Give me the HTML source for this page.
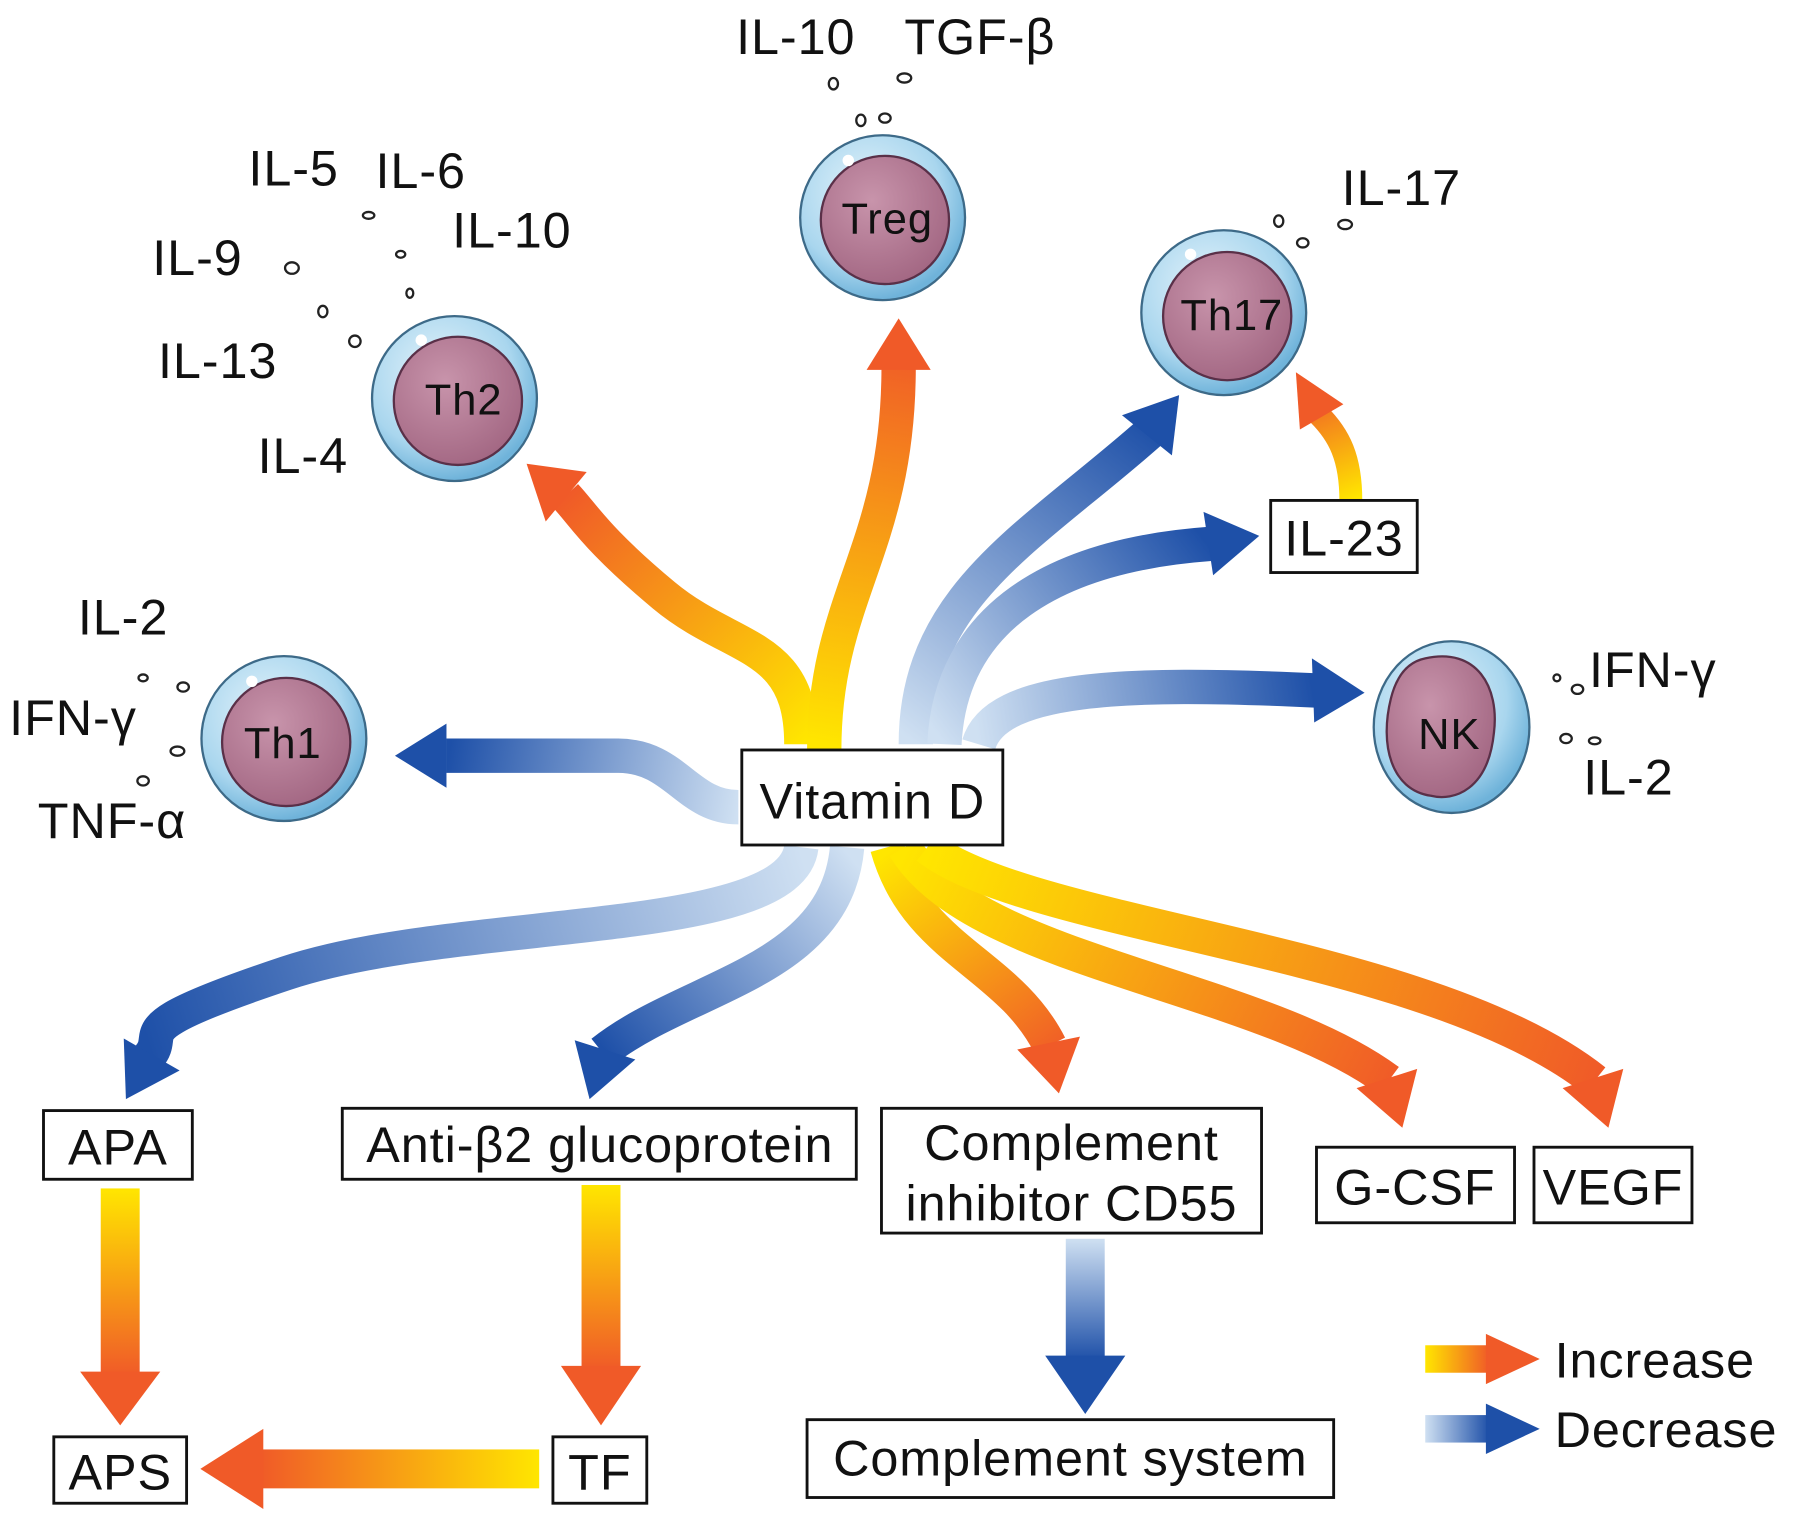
<!DOCTYPE html>
<html><head><meta charset="utf-8"><style>
html,body{margin:0;padding:0;background:#fff}
svg{display:block}
text{font-family:"Liberation Sans",sans-serif;fill:#111;letter-spacing:0.8px}
</style></head><body>
<svg width="1795" height="1524" viewBox="0 0 1568 1331" xmlns="http://www.w3.org/2000/svg">
<defs>
<radialGradient id="cellOut" cx="40%" cy="35%" r="65%"><stop offset="0" stop-color="#e4f3fb"/><stop offset="0.7" stop-color="#a9d6ee"/><stop offset="1" stop-color="#6fb3da"/></radialGradient>
<radialGradient id="cellIn" cx="40%" cy="35%" r="70%"><stop offset="0" stop-color="#c894ab"/><stop offset="1" stop-color="#a26682"/></radialGradient>
<linearGradient id="y1" gradientUnits="userSpaceOnUse" x1="700" y1="650" x2="494" y2="433"><stop offset="0" stop-color="#ffe600"/><stop offset="1" stop-color="#f05a28"/></linearGradient>
<linearGradient id="y2" gradientUnits="userSpaceOnUse" x1="720" y1="650" x2="785" y2="300"><stop offset="0" stop-color="#ffe600"/><stop offset="1" stop-color="#f05a28"/></linearGradient>
<linearGradient id="y3" gradientUnits="userSpaceOnUse" x1="1180" y1="437" x2="1140" y2="340"><stop offset="0" stop-color="#ffe600"/><stop offset="1" stop-color="#f05a28"/></linearGradient>
<linearGradient id="y4" gradientUnits="userSpaceOnUse" x1="775" y1="745" x2="916" y2="930"><stop offset="0" stop-color="#ffe600"/><stop offset="1" stop-color="#f05a28"/></linearGradient>
<linearGradient id="y5" gradientUnits="userSpaceOnUse" x1="790" y1="745" x2="1211" y2="960"><stop offset="0" stop-color="#ffe600"/><stop offset="1" stop-color="#f05a28"/></linearGradient>
<linearGradient id="y6" gradientUnits="userSpaceOnUse" x1="810" y1="745" x2="1391" y2="960"><stop offset="0" stop-color="#ffe600"/><stop offset="1" stop-color="#f05a28"/></linearGradient>
<linearGradient id="yv" x1="0" y1="0" x2="0" y2="1"><stop offset="0" stop-color="#ffe600"/><stop offset="1" stop-color="#f05a28"/></linearGradient>
<linearGradient id="yh" x1="1" y1="0" x2="0" y2="0"><stop offset="0" stop-color="#ffe600"/><stop offset="1" stop-color="#f05a28"/></linearGradient>
<linearGradient id="yl" x1="0" y1="0" x2="1" y2="0"><stop offset="0" stop-color="#ffe600"/><stop offset="1" stop-color="#f05a28"/></linearGradient>
<linearGradient id="b1" gradientUnits="userSpaceOnUse" x1="645" y1="705" x2="392" y2="660"><stop offset="0" stop-color="#cfe0f2"/><stop offset="1" stop-color="#1e50a8"/></linearGradient>
<linearGradient id="b2" gradientUnits="userSpaceOnUse" x1="800" y1="650" x2="1010" y2="375"><stop offset="0" stop-color="#cfe0f2"/><stop offset="1" stop-color="#1e50a8"/></linearGradient>
<linearGradient id="b3" gradientUnits="userSpaceOnUse" x1="825" y1="650" x2="1055" y2="475"><stop offset="0" stop-color="#cfe0f2"/><stop offset="1" stop-color="#1e50a8"/></linearGradient>
<linearGradient id="b4" gradientUnits="userSpaceOnUse" x1="855" y1="650" x2="1147" y2="603"><stop offset="0" stop-color="#cfe0f2"/><stop offset="1" stop-color="#1e50a8"/></linearGradient>
<linearGradient id="b5" gradientUnits="userSpaceOnUse" x1="700" y1="745" x2="132" y2="921"><stop offset="0" stop-color="#cfe0f2"/><stop offset="1" stop-color="#1e50a8"/></linearGradient>
<linearGradient id="b6" gradientUnits="userSpaceOnUse" x1="740" y1="745" x2="528" y2="917"><stop offset="0" stop-color="#cfe0f2"/><stop offset="1" stop-color="#1e50a8"/></linearGradient>
<linearGradient id="bv" x1="0" y1="0" x2="0" y2="1"><stop offset="0" stop-color="#cfe0f2"/><stop offset="1" stop-color="#1e50a8"/></linearGradient>
<linearGradient id="bl" x1="0" y1="0" x2="1" y2="0"><stop offset="0" stop-color="#cfe0f2"/><stop offset="1" stop-color="#1e50a8"/></linearGradient>
</defs>

<g fill="none" stroke-width="30">
<path d="M700,650 C700,560 640,570 580,520 S510,450 494,433" stroke="url(#y1)"/>
<path d="M720,655 C720,520 785,480 785,320" stroke="url(#y2)"/>
<path d="M645,705 C600,705 590,660 540,660 L390,660" stroke="url(#b1)"/>
<path d="M800,650 C800,520 900,470 1004,378" stroke="url(#b2)"/>
<path d="M825,650 C830,540 920,485 1057,475" stroke="url(#b3)"/>
<path d="M855,650 C870,600 980,595 1149,603" stroke="url(#b4)"/>
<path d="M1180,437 C1180,400 1170,380 1152,362" stroke="url(#y3)" stroke-width="20"/>
<path d="M700,740 C690,820 400,800 250,850 S150,900 130,923" stroke="url(#b5)"/>
<path d="M740,740 C730,850 600,860 526,919" stroke="url(#b6)"/>
<path d="M775,740 C800,830 880,840 917,913" stroke="url(#y4)"/>
<path d="M790,740 C850,840 1100,860 1213,944" stroke="url(#y5)"/>
<path d="M810,740 C900,810 1250,830 1393,944" stroke="url(#y6)"/>
</g>
<polygon points="512.5,412.2 476.7,455.4 460,405" fill="#f05a28"/>
<polygon points="757,323 813,323 785,278" fill="#f05a28"/>
<polygon points="390,632 390,688 345,660" fill="#1e50a8"/>
<polygon points="1023.7,397.6 980.1,362.6 1030,345" fill="#1e50a8"/>
<polygon points="1059.7,502.4 1051.3,447 1100,468" fill="#1e50a8"/>
<polygon points="1148,631 1146,575 1192,605" fill="#1e50a8"/>
<polygon points="1173.5,353 1135.5,375 1132,325" fill="#f05a28"/>
<polygon points="156.9,935 108.1,907 110,960" fill="#1e50a8"/>
<polygon points="555,925.4 502,908.6 515,960" fill="#1e50a8"/>
<polygon points="943.4,905.4 888.6,916.6 925,955" fill="#f05a28"/>
<polygon points="1238,933.6 1185,950.4 1225,985" fill="#f05a28"/>
<polygon points="1418,933.6 1365,950.4 1405,985" fill="#f05a28"/>

<rect x="88" y="1038" width="34" height="164" fill="url(#yv)"/>
<polygon points="70,1198 140,1198 105,1245" fill="#f05a28"/>
<rect x="508" y="1035" width="34" height="162" fill="url(#yv)"/>
<polygon points="490,1193 560,1193 525,1245" fill="#f05a28"/>
<rect x="226" y="1266" width="245" height="34" fill="url(#yh)"/>
<polygon points="230,1248 230,1318 175,1283" fill="#f05a28"/>
<rect x="931" y="1082" width="34" height="106" fill="url(#bv)"/>
<polygon points="913,1184 983,1184 948,1235" fill="#1e50a8"/>

<rect x="1245" y="1175" width="56" height="24" fill="url(#yl)"/>
<polygon points="1298,1165 1298,1209 1345,1187" fill="#f05a28"/>
<rect x="1245" y="1236" width="56" height="24" fill="url(#bl)"/>
<polygon points="1298,1226 1298,1270 1345,1248" fill="#1e50a8"/>
<text x="1358" y="1203" font-size="44">Increase</text>
<text x="1358" y="1264" font-size="44">Decrease</text>

<g stroke="#3d6a88" stroke-width="2">
<circle cx="248" cy="645" r="72" fill="url(#cellOut)"/>
<circle cx="397" cy="348" r="72" fill="url(#cellOut)"/>
<circle cx="771" cy="190" r="72" fill="url(#cellOut)"/>
<circle cx="1069" cy="273" r="72" fill="url(#cellOut)"/>
<ellipse cx="1268" cy="635" rx="68" ry="75" fill="url(#cellOut)"/>
</g>
<g stroke="#5a3048" stroke-width="2" fill="url(#cellIn)">
<circle cx="250" cy="648" r="56"/>
<circle cx="400" cy="350" r="56"/>
<circle cx="773" cy="192" r="56"/>
<circle cx="1072" cy="276" r="56"/>
<path d="M1245,575 C1290,565 1310,600 1305,640 C1300,690 1270,700 1250,695 C1215,690 1205,650 1215,610 C1220,590 1230,578 1245,575Z"/>
</g>
<g fill="#fff"><circle cx="220" cy="595" r="5"/><circle cx="368" cy="297" r="5"/><circle cx="741" cy="140" r="5"/><circle cx="1040" cy="222" r="5"/></g>
<g font-size="38" text-anchor="middle">
<text x="247" y="662">Th1</text><text x="405" y="362">Th2</text><text x="775" y="204">Treg</text><text x="1076" y="288">Th17</text><text x="1266" y="654">NK</text>
</g>
<g fill="#fff" stroke="#222" stroke-width="2">
<ellipse cx="125" cy="592" rx="4" ry="3"/><ellipse cx="160" cy="600" rx="5" ry="4"/><ellipse cx="155" cy="656" rx="6" ry="4"/><ellipse cx="125" cy="682" rx="5" ry="4"/>
<ellipse cx="322" cy="188" rx="5" ry="3"/><ellipse cx="350" cy="222" rx="4" ry="3"/><ellipse cx="358" cy="256" rx="3" ry="4"/><ellipse cx="255" cy="234" rx="6" ry="5"/><ellipse cx="282" cy="272" rx="4" ry="5"/><ellipse cx="310" cy="298" rx="5" ry="5"/>
<ellipse cx="728" cy="73" rx="4" ry="5"/><ellipse cx="790" cy="68" rx="6" ry="4"/><ellipse cx="752" cy="105" rx="4" ry="5"/><ellipse cx="773" cy="103" rx="5" ry="4"/>
<ellipse cx="1117" cy="193" rx="4" ry="5"/><ellipse cx="1138" cy="212" rx="5" ry="4"/><ellipse cx="1175" cy="196" rx="6" ry="4"/>
<ellipse cx="1360" cy="592" rx="3" ry="3"/><ellipse cx="1378" cy="602" rx="5" ry="4"/><ellipse cx="1368" cy="645" rx="5" ry="4"/><ellipse cx="1393" cy="647" rx="5" ry="3"/>
</g>

<g font-size="44">
<text x="68" y="554">IL-2</text><text x="8" y="642">IFN-γ</text><text x="33" y="732">TNF-α</text>
<text x="217" y="162">IL-5</text><text x="328" y="164">IL-6</text><text x="395" y="216">IL-10</text><text x="133" y="240">IL-9</text><text x="138" y="330">IL-13</text><text x="225" y="413">IL-4</text>
<text x="643" y="47">IL-10</text><text x="790" y="47">TGF-β</text>
<text x="1172" y="179">IL-17</text>
<text x="1388" y="600">IFN-γ</text><text x="1383" y="694">IL-2</text>
</g>

<g fill="#fff" stroke="#111" stroke-width="2.5">
<rect x="648" y="655" width="228" height="83"/>
<rect x="1110" y="437" width="128" height="63"/>
<rect x="38" y="970" width="130" height="60"/>
<rect x="299" y="968" width="449" height="62"/>
<rect x="770" y="968" width="332" height="109"/>
<rect x="1150" y="1002" width="173" height="66"/>
<rect x="1340" y="1002" width="138" height="66"/>
<rect x="47" y="1255" width="116" height="58"/>
<rect x="483" y="1255" width="82" height="58"/>
<rect x="705" y="1240" width="460" height="68"/>
</g>
<g font-size="44" text-anchor="middle">
<text x="762" y="715">Vitamin D</text>
<text x="1174" y="485">IL-23</text>
<text x="103" y="1017">APA</text>
<text x="524" y="1015">Anti-β2 glucoprotein</text>
<text x="936" y="1013">Complement</text>
<text x="936" y="1066">inhibitor CD55</text>
<text x="1236" y="1052">G-CSF</text>
<text x="1409" y="1052">VEGF</text>
<text x="105" y="1301">APS</text>
<text x="524" y="1301">TF</text>
<text x="935" y="1289">Complement system</text>
</g>
</svg>
</body></html>
